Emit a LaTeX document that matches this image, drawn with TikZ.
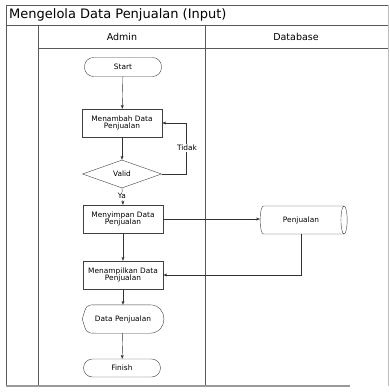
\documentclass[tikz,border=0pt]{standalone}
\usepackage{fontspec}
\setmainfont{DejaVu Sans}
\usetikzlibrary{arrows.meta,shapes.geometric}
\tikzset{
  lane/.style={draw=black!65,line width=1pt},
  act/.style={draw=black!75,rectangle,minimum width=80pt,minimum height=28pt,align=center,font=\fontsize{7.4}{7.8}\selectfont,inner sep=1pt},
  term/.style={draw=black!75,rectangle,rounded corners=9pt,minimum width=77pt,minimum height=19pt,font=\fontsize{7.4}{8}\selectfont},
  cond/.style={draw=black!75,diamond,aspect=2.8,minimum width=79pt,minimum height=28pt,inner sep=0pt,font=\fontsize{7.4}{8}\selectfont},
  store/.style={draw=black!75,cylinder,aspect=0.45,minimum width=28pt,minimum height=87pt,font=\fontsize{7.4}{8}\selectfont},
  flow/.style={-{Stealth[length=4pt,width=3pt]},black!80},
  lbl/.style={font=\fontsize{7.4}{8}\selectfont,inner sep=1pt}
}
\begin{document}
\begin{tikzpicture}[x=1pt,y=-1pt]
  \useasboundingbox (0,0) rectangle (390,392);
  % swimlane frame
  \draw [lane] (6,5) -- (388,5);
  \draw [lane] (6,25) -- (388,25);
  \draw [lane] (38,48) -- (388,48);
  \draw [lane] (6,5) -- (6,386);
  \draw [lane] (38,25) -- (38,386);
  \draw [lane] (205,25) -- (205,386);
  \draw [draw=black!25,line width=1pt] (388,5) -- (388,386);
  \draw [draw=black!40,line width=1.5pt] (6,386) -- (350,386);
  \node at (9,15) [anchor=west,inner sep=0pt,font=\fontsize{13}{14}\selectfont] (title) {Mengelola Data Penjualan (Input)};
  \node at (122,37) [font=\fontsize{9.5}{10}\selectfont] (admin) {Admin};
  \node at (296,37) [font=\fontsize{9.5}{10}\selectfont] (db) {Database};

  % admin lane
  \node at (123,67) [term] (start) {Start};
  \node at (122,123) [act] (tambah) {Menambah Data\\Penjualan};
  \node at (122,174) [cond] (valid) {Valid};
  \node at (123,219) [act] (simpan) {Menyimpan Data\\Penjualan};
  \node at (123,275) [act] (tampil) {Menampilkan Data\\Penjualan};
  \node at (123,319) [minimum width=81pt,minimum height=28pt,font=\fontsize{7.4}{8}\selectfont] (data) {Data Penjualan};
  \draw [black!75] (data.west) .. controls ([xshift=4pt]data.west |- data.north) .. ([xshift=14pt]data.north west)
     -- ([xshift=-14pt]data.north east)
     .. controls ([xshift=5pt]data.north east) and ([xshift=5pt]data.south east) .. ([xshift=-14pt]data.south east)
     -- ([xshift=14pt]data.south west)
     .. controls ([xshift=4pt]data.west |- data.south) .. (data.west);
  \node at (122,368) [term,minimum height=18pt] (finish) {Finish};

  % database lane
  \node at (301,220) [store] (jual) {Penjualan};
  \coordinate (turn) at (jual.south |- tampil.east);
  \coordinate (loop) at (186,174);

  \draw [flow] (start) -- (tambah);
  \draw [flow] (tambah) -- (valid);
  \draw [flow] (valid.east) -- (loop) -- (loop |- tambah.east) -- (tambah.east);
  \node at (187,148) [lbl,fill=white] (tidak) {Tidak};
  \draw [flow] (valid.south) -- (simpan.north);
  \node at (122,196) [lbl,fill=white] (ya) {Ya};
  \draw [flow] (simpan.east) -- (jual.west |- simpan.east);
  \draw [flow] (simpan) -- (tampil);
  \draw [flow] (jual.south) -- (turn) -- (tampil.east);
  \draw [flow] (tampil) -- (data);
  \draw [flow] (data) -- (finish);
\end{tikzpicture}
\end{document}
